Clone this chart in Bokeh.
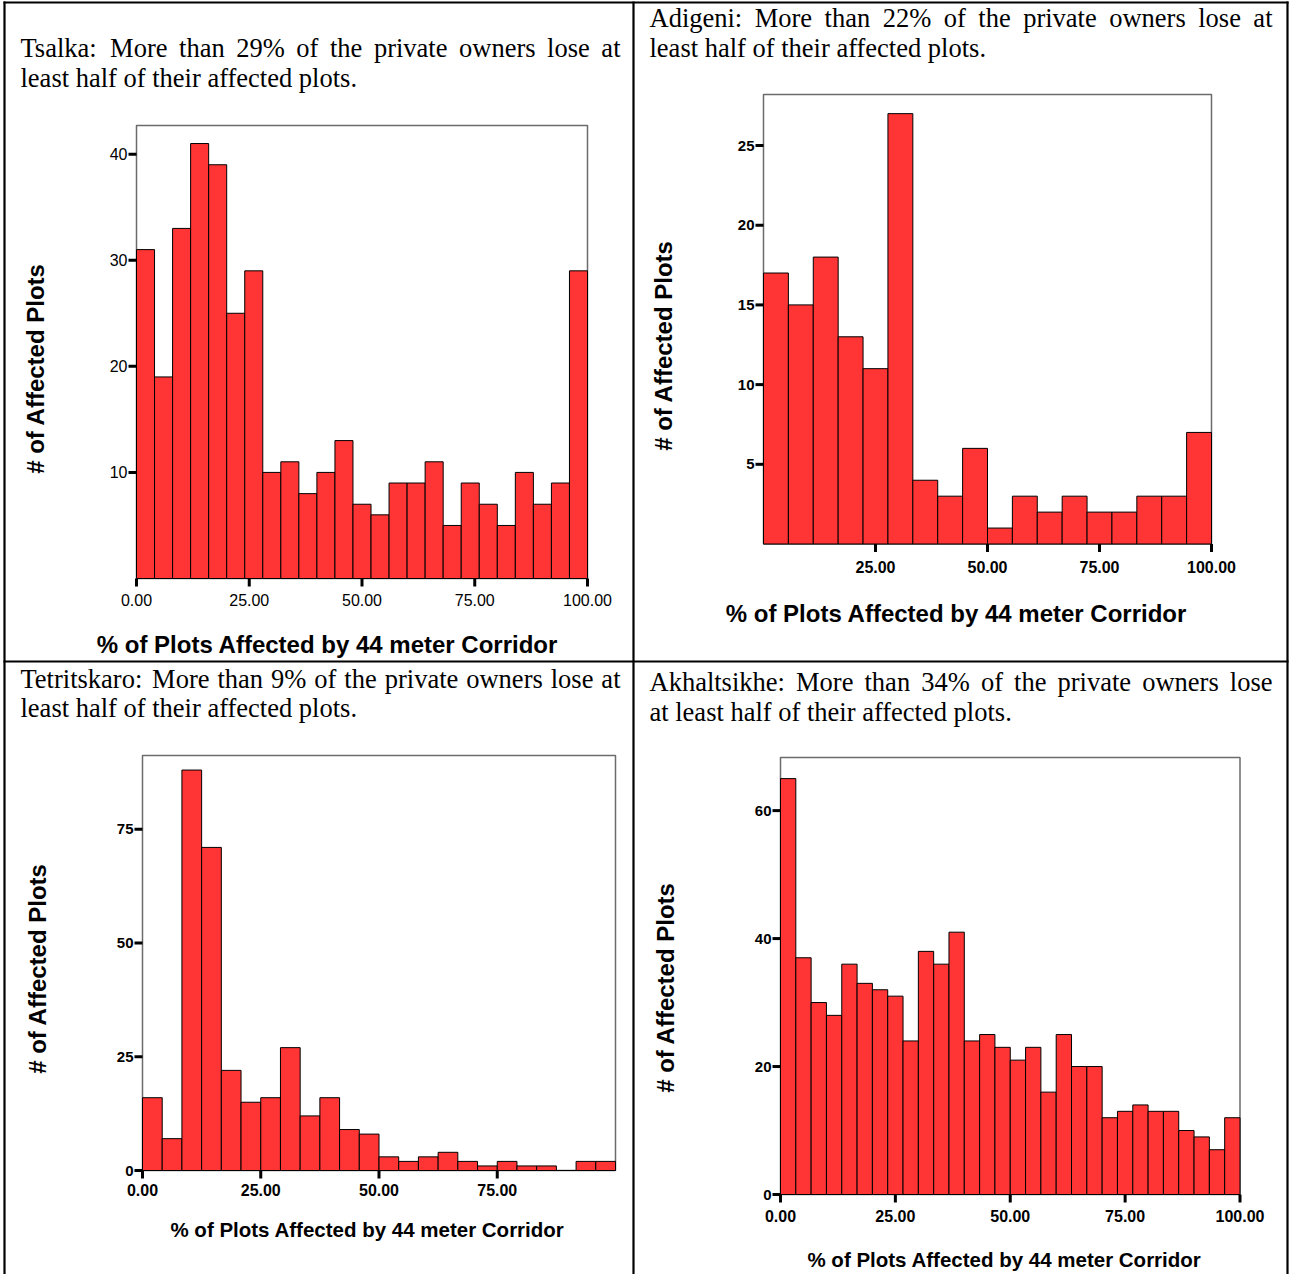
import numpy as np
from bokeh.plotting import figure
from bokeh.models import Range1d
from bokeh.embed import file_html
from bokeh.resources import INLINE
from bokeh.core.properties import value

# ---------------- data ----------------
tsalka_counts = [31, 19, 33, 41, 39, 25, 29, 10, 11, 8, 10, 13, 7, 6, 9, 9, 11, 5, 9, 7, 5, 10, 7, 9, 29]
adigeni_counts = [17, 15, 18, 13, 11, 27, 4, 3, 6, 1, 3, 2, 3, 2, 2, 3, 3, 7]
tetritskaro_counts = [16, 7, 88, 71, 22, 15, 16, 27, 12, 16, 9, 8, 3, 2, 3, 4, 2, 1, 2, 1, 1, 0, 2, 2]
akhaltsikhe_counts = [65, 37, 30, 28, 36, 33, 32, 31, 24, 38, 36, 41, 24, 25, 23, 21, 23, 16, 25, 20,
                      20, 12, 13, 14, 13, 13, 10, 9, 7, 12]

tsalka_xticks = [0, 25, 50, 75, 100]
tsalka_yticks = [10, 20, 30, 40]
adigeni_xticks = [25, 50, 75, 100]
adigeni_yticks = [5, 10, 15, 20, 25]
tetritskaro_xticks = [0, 25, 50, 75]
tetritskaro_yticks = [0, 25, 50, 75]
akhaltsikhe_xticks = [0, 25, 50, 75, 100]
akhaltsikhe_yticks = [0, 20, 40, 60]

x_title = "% of Plots Affected by 44 meter Corridor"
y_title = "# of Affected Plots"

tsalka_caption = ["Tsalka: More than 29% of the private owners lose at",
                  "least half of their affected plots."]
adigeni_caption = ["Adigeni: More than 22% of the private owners lose at",
                   "least half of their affected plots."]
tetritskaro_caption = ["Tetritskaro: More than 9% of the private owners lose at",
                       "least half of their affected plots."]
akhaltsikhe_caption = ["Akhaltsikhe: More than 34% of the private owners lose",
                       "at least half of their affected plots."]

# ---------------- layout ----------------
W, H = 1290, 1274
RED = "#ff3434"
SERIF = "Liberation Serif"
SANS = "Liberation Sans"
CAP_SIZE = 26.5

p = figure(width=W, height=H, x_range=Range1d(0, W), y_range=Range1d(H, 0),
           output_backend="svg", toolbar_location=None, title=None,
           x_axis_type=None, y_axis_type=None, min_border=0,
           outline_line_color=None)
p.background_fill_color = "white"
p.border_fill_color = "white"

# table borders
p.segment(x0=[3, 4, 1287, 633, 3], y0=[2, 1, 1, 1, 661],
          x1=[1288, 4, 1287, 633, 1288], y1=[2, H, H, H, 661],
          line_color="black", line_width=2.2)

# Times New Roman advance widths (per 1000 em), for justified first lines
TNR = {' ': 250, 'a': 444, 'b': 500, 'c': 444, 'd': 500, 'e': 444, 'f': 333, 'g': 500,
       'h': 500, 'i': 278, 'j': 278, 'k': 500, 'l': 278, 'm': 778, 'n': 500, 'o': 500,
       'p': 500, 'q': 500, 'r': 333, 's': 389, 't': 278, 'u': 500, 'v': 500, 'w': 722,
       'x': 500, 'y': 500, 'z': 444, 'A': 722, 'M': 889, 'T': 611, '%': 833, ':': 278,
       '.': 250}


def justify(line, x0, x1, size):
    words = line.split()
    ws = [sum(TNR.get(c, 500) for c in w) * size / 1000.0 for w in words]
    gap = (x1 - x0 - sum(ws)) / (len(words) - 1)
    xs, x = [], x0
    for w in ws:
        xs.append(x)
        x += w + gap
    return words, xs


charts = [
    dict(name="tsalka", counts=tsalka_counts, box=(136, 587, 125, 578), ymax=42.7,
         xticks=tsalka_xticks, yticks=tsalka_yticks, bold=False, ytick_size=16,
         caption=tsalka_caption, cap_x=(20, 620), cap_y=(47, 77),
         xlab=(327, 644, 24), ylab=(35, 368), xtick_y=599),
    dict(name="adigeni", counts=adigeni_counts, box=(763, 1211, 94, 543.5), ymax=28.2,
         xticks=adigeni_xticks, yticks=adigeni_yticks, bold=True, ytick_size=15,
         caption=adigeni_caption, cap_x=(649, 1272), cap_y=(17, 47),
         xlab=(956, 613, 24), ylab=(663, 345), xtick_y=566),
    dict(name="tetritskaro", counts=tetritskaro_counts, box=(142, 615, 755, 1170), ymax=91.2,
         xticks=tetritskaro_xticks, yticks=tetritskaro_yticks, bold=True, ytick_size=15,
         caption=tetritskaro_caption, cap_x=(20, 620), cap_y=(678, 707),
         xlab=(367, 1229, 20.5), ylab=(37, 968), xtick_y=1189),
    dict(name="akhaltsikhe", counts=akhaltsikhe_counts, box=(780, 1239.5, 757, 1194), ymax=68.3,
         xticks=akhaltsikhe_xticks, yticks=akhaltsikhe_yticks, bold=True, ytick_size=15,
         caption=akhaltsikhe_caption, cap_x=(649, 1272), cap_y=(681, 711),
         xlab=(1004, 1259, 20.5), ylab=(665, 987), xtick_y=1215),
]

xr, yr = {}, {}
for c in charts:
    L, R, T, B = c["box"]
    m = (R - L) / 100.0
    k = (B - T) / c["ymax"]
    xr[c["name"] + "_x"] = Range1d(-L / m, (W - L) / m)
    yr[c["name"] + "_y"] = Range1d((B - H) / k, B / k)
p.extra_x_ranges = xr
p.extra_y_ranges = yr

for c in charts:
    nx, ny = c["name"] + "_x", c["name"] + "_y"
    L, R, T, B = c["box"]
    counts = c["counts"]
    edges = np.linspace(0, 100, len(counts) + 1)
    style = "bold" if c["bold"] else "normal"

    # plot frame
    p.quad(left=[0], right=[100], bottom=[0], top=[c["ymax"]], x_range_name=nx, y_range_name=ny,
           fill_color=None, line_color="#6b6b6b", line_width=1.5)
    # histogram bars
    p.quad(left=edges[:-1], right=edges[1:], bottom=0, top=counts,
           x_range_name=nx, y_range_name=ny,
           fill_color=RED, line_color="black", line_width=1)

    # x ticks and labels
    xt = c["xticks"]
    p.segment(x0=xt, x1=xt, y0=[B] * len(xt), y1=[B + 8] * len(xt), x_range_name=nx,
              line_color="black", line_width=3)
    p.text(x=xt, y=[c["xtick_y"]] * len(xt), text=["%.2f" % v for v in xt], x_range_name=nx,
           text_align="center", text_baseline="middle", text_font=value(SANS),
           text_font_size="16px", text_font_style=style, text_color="black")
    # y ticks and labels
    yt = c["yticks"]
    p.segment(x0=[L - 8] * len(yt), x1=[L] * len(yt), y0=yt, y1=yt, y_range_name=ny,
              line_color="black", line_width=3)
    p.text(x=[L - 9] * len(yt), y=yt, text=[str(v) for v in yt], y_range_name=ny,
           text_align="right", text_baseline="middle", text_font=value(SANS),
           text_font_size="%dpx" % c["ytick_size"], text_font_style=style, text_color="black")

    # axis titles
    xl = c["xlab"]
    p.text(x=[xl[0]], y=[xl[1]], text=[x_title], text_align="center", text_baseline="middle",
           text_font=value(SANS), text_font_size="%.1fpx" % xl[2], text_font_style="bold",
           text_color="black")
    p.text(x=[c["ylab"][0]], y=[c["ylab"][1]], text=[y_title], angle=np.pi / 2,
           text_align="center", text_baseline="middle", text_font=value(SANS),
           text_font_size="24px", text_font_style="bold", text_color="black")

    # caption: first line justified, second line natural
    words, xs = justify(c["caption"][0], c["cap_x"][0], c["cap_x"][1], CAP_SIZE)
    p.text(x=xs, y=[c["cap_y"][0]] * len(words), text=words, text_align="left",
           text_baseline="alphabetic", text_font=value(SERIF),
           text_font_size="%.1fpx" % CAP_SIZE, text_color="black")
    p.text(x=[c["cap_x"][0]], y=[c["cap_y"][1]], text=[c["caption"][1]], text_align="left",
           text_baseline="alphabetic", text_font=value(SERIF),
           text_font_size="%.1fpx" % CAP_SIZE, text_color="black")

open("out.html", "w").write(file_html(p, INLINE))
